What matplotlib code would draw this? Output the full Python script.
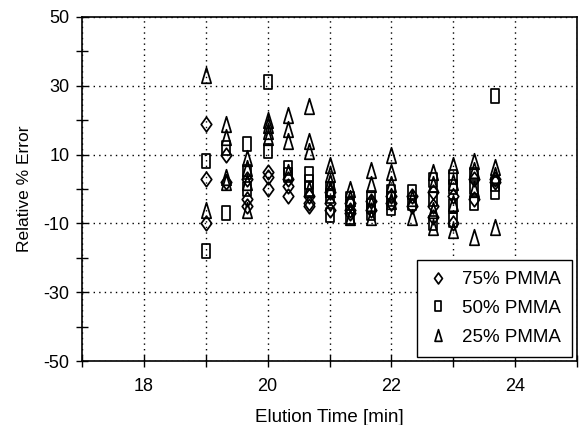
import matplotlib
matplotlib.use("Agg")
import matplotlib.pyplot as plt
from matplotlib.path import Path
from matplotlib.ticker import FixedLocator

plt.rcParams['font.family'] = ['Liberation Sans', 'DejaVu Sans']
plt.rcParams['axes.unicode_minus'] = False

# Elution times of the measurement clusters [min]
times = [19.0, 19.33, 19.67, 20.0, 20.33, 20.67, 21.0, 21.33, 21.67,
         22.0, 22.33, 22.67, 23.0, 23.33, 23.67]

# Relative % error per cluster, per blend
pmma75 = [[19, 3, -10], [10, 2], [3, -3, -5], [5, 3.5, 0], [3, 1, -2],
          [-2, -4, -5], [-1, -4, -6], [-4, -6, -7], [-3.5, -6], [-2, -4],
          [-2, -5], [-1, -5, -8], [-2, -10], [-3, 3], [3, 2]]
pmma50 = [[8, -18], [12, -7], [13, 5, 0], [31, 11], [6, 4],
          [4.5, 2, 0], [0, -2, -7.5], [-3, -5, -8], [-2.5, -5, -7],
          [-1, -3, -5.5], [-1, -4], [2.5, -3, -10], [3.5, 0.5, -5, -9],
          [4, 0.5, -4], [27, 1.5, -1]]
pmma25 = [[33, -6], [19, 15, 3.5, 2], [9, 6, 2, -6], [20, 18.5, 17, 15],
          [21.5, 17.5, 14, 5], [24, 14, 11, 0], [7, 4.5, 2, 0],
          [0, -2.5, -8], [5.5, 1.5, -4, -8], [10, 5, 1.5, -3.5],
          [-2.5, -8], [5, 1.5, -6, -11], [7, 2, -4, -12],
          [8, 5.5, 0, -14], [6.5, 4, -11]]
labels = ['75% PMMA', '50% PMMA', '25% PMMA']

x_ticks = [18, 20, 22, 24]
y_ticks = [-50, -30, -10, 10, 30, 50]


def flatten(groups):
    xs, ys = [], []
    for t, g in zip(times, groups):
        for v in g:
            xs.append(t)
            ys.append(v)
    return xs, ys


diamond = Path([(0, 0.5), (0.36, 0), (0, -0.5), (-0.36, 0), (0, 0.5)],
               [Path.MOVETO, Path.LINETO, Path.LINETO, Path.LINETO, Path.CLOSEPOLY])
square = Path([(-0.31, -0.5), (0.31, -0.5), (0.31, 0.5), (-0.31, 0.5), (-0.31, -0.5)],
              [Path.MOVETO, Path.LINETO, Path.LINETO, Path.LINETO, Path.CLOSEPOLY])
triangle = Path([(0, 0.5), (0.3, -0.5), (-0.3, -0.5), (0, 0.5)],
                [Path.MOVETO, Path.LINETO, Path.LINETO, Path.CLOSEPOLY])

fig = plt.figure(figsize=(5.79, 4.25), dpi=100)
ax = fig.add_axes([82 / 579, 1 - 361 / 425, (577 - 82) / 579, (361 - 17) / 425])

series = [(pmma75, diamond, 10.5), (pmma50, square, 9.8), (pmma25, triangle, 11.2)]
for (data, mk, ms), lab in zip(series, labels):
    xs, ys = flatten(data)
    ax.plot(xs, ys, linestyle='none', marker=mk, markersize=ms,
            markerfacecolor='none', markeredgecolor='black',
            markeredgewidth=1.25, label=lab, zorder=3)

ax.set_xlim(17, 25)
ax.set_ylim(-50, 50)
ax.xaxis.set_major_locator(FixedLocator(x_ticks))
ax.xaxis.set_minor_locator(FixedLocator([17, 19, 21, 23, 25]))
ax.yaxis.set_major_locator(FixedLocator(y_ticks))
ax.yaxis.set_minor_locator(FixedLocator([-40, -20, 0, 20, 40]))

ax.tick_params(which='both', direction='inout', length=8, width=1.0,
               labelsize=13, colors='black')
ax.tick_params(axis='y', pad=5)
ax.tick_params(axis='x', pad=8)
ax.tick_params(which='both', top=False, right=False)

dot = (0, (1, 3))
ax.xaxis.grid(True, which='both', linestyle=dot, color='black', linewidth=1.0)
ax.yaxis.grid(True, which='major', linestyle=dot, color='black', linewidth=1.0)
ax.set_axisbelow(True)

for sp in ax.spines.values():
    sp.set_linewidth(1.2)
    sp.set_color('black')

ax.set_xlabel('Elution Time [min]', fontsize=13.5, labelpad=10)
ax.set_ylabel('Relative % Error', fontsize=12.5, labelpad=8)

leg = ax.legend(loc='lower right', bbox_to_anchor=(0.99, 0.012),
                borderaxespad=0, fontsize=13.5, frameon=True, fancybox=False,
                edgecolor='black', framealpha=1, labelspacing=0.62,
                borderpad=0.6, handletextpad=0.8, handlelength=1.0,
                markerscale=0.75)
leg.get_frame().set_linewidth(1.0)

fig.savefig('out.png', dpi=100)
